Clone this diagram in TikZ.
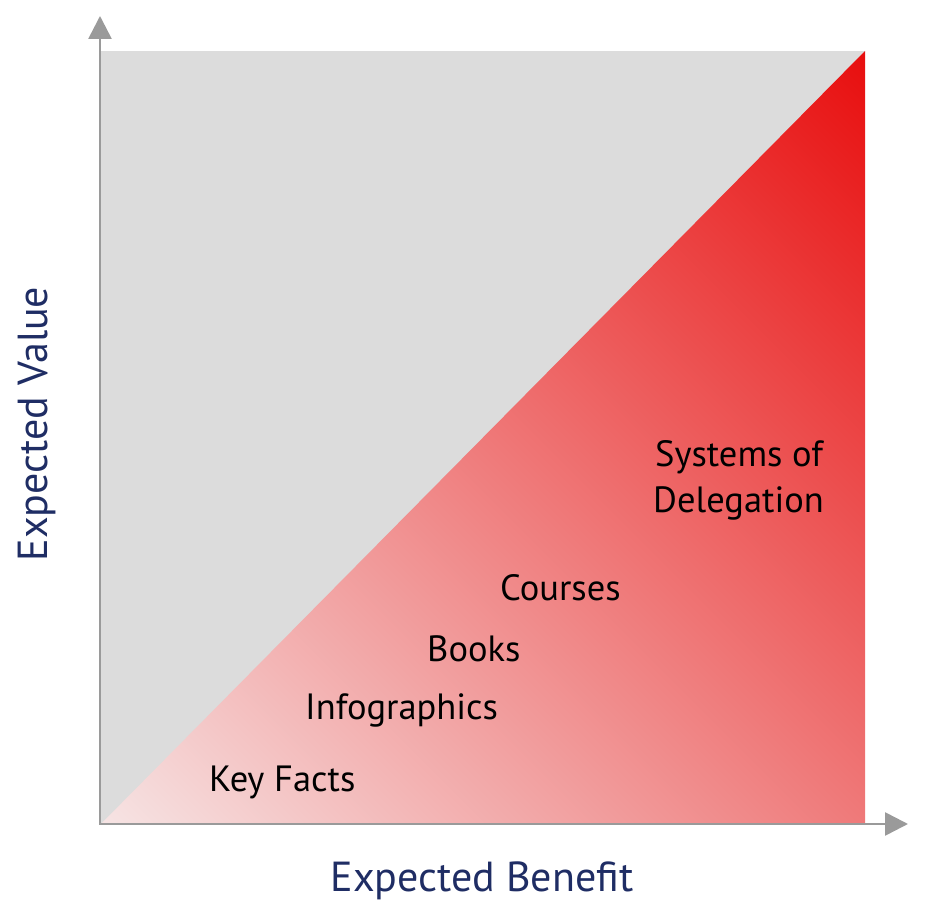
\documentclass[tikz,border=0pt]{standalone}
\usepackage{fontspec}
\setmainfont{PT Sans}
\usetikzlibrary{arrows.meta}
\definecolor{gfill}{HTML}{DCDCDC}
\definecolor{axisgray}{HTML}{9A9A9A}
\definecolor{pinkstart}{RGB}{246,228,228}
\definecolor{redend}{RGB}{232,14,14}
\definecolor{navy}{RGB}{31,45,100}
\begin{document}
\begin{tikzpicture}[x=1pt,y=1pt,
  lbl/.style={anchor=base west, inner sep=0pt, font=\fontsize{36.5}{44}\selectfont, text=black},
  axlbl/.style={anchor=base, inner sep=0pt, font=\fontsize{42}{50}\selectfont, text=navy},
  axisline/.style={draw=axisgray, line width=2.6pt, {Triangle[width=23pt,length=23pt]}-{Triangle[width=23pt,length=23pt]}}]
\useasboundingbox (0,0) rectangle (928,917);
\coordinate (O) at (101,93);
\coordinate (TR) at (865,866);
\coordinate (BR) at (865,93);
\fill[gfill] (O) rectangle (TR);
\begin{scope}
  \clip (O) -- (TR) -- (BR) -- cycle;
  \begin{scope}[transform canvas={shift={(101pt,93pt)}, rotate=45}]
    \shade[left color=pinkstart, right color=redend] (0,-600) rectangle (1086.8,50);
  \end{scope}
\end{scope}
\coordinate (origin) at (100,93);
\coordinate (ytip) at (100,901);
\coordinate (xtip) at (908,93);
\draw[axisline] (ytip) -- (origin) -- (xtip);
\node[lbl] (keyfacts) at (209,125) {Key Facts};
\node[lbl] (infographics) at (305,197) {Infographics};
\node[lbl] (books) at (427,255) {Books};
\node[lbl] (courses) at (500,316) {Courses};
\node[lbl] (systems) at (655,450) {Systems of};
\node[lbl] (delegation) at (653,404) {Delegation};
\node[axlbl] (xlabel) at (482,25) {Expected Benefit};
\node[axlbl, rotate=90] (ylabel) at (47,493) {Expected Value};
\end{tikzpicture}
\end{document}
